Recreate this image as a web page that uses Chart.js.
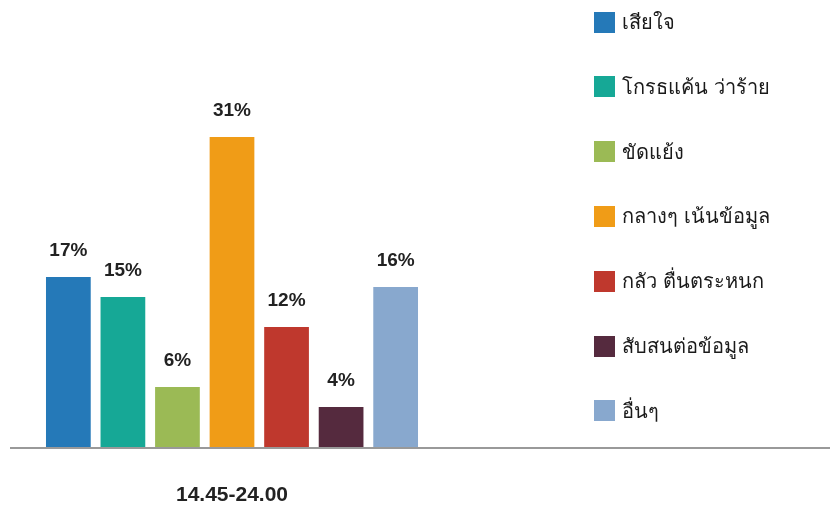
<!DOCTYPE html>
<html>
<head>
<meta charset="utf-8">
<script src="https://cdn.jsdelivr.net/npm/chart.js@4.4.1/dist/chart.umd.min.js"></script>
<style>
  html, body { margin: 0; padding: 0; background: #fff; }
  #wrap { position: relative; width: 830px; height: 507px; }
  #legend { position: absolute; left: 594px; top: 0; margin: 0; padding: 0; list-style: none;
    font-family: "Liberation Sans", "DejaVu Sans", sans-serif; font-size: 20px; color: #1a1a1a; }
  #legend li { position: absolute; left: 0; height: 22px; display: flex; align-items: center; white-space: nowrap; }
  #legend .box { width: 21px; height: 21px; margin-right: 7px; flex: none; }
</style>
</head>
<body>
<div id="wrap">
  <canvas id="c" width="830" height="507"></canvas>
  <ul id="legend"></ul>
</div>
<script>
const categories = ["14.45-24.00"];
const seriesNames = ["เสียใจ", "โกรธแค้น ว่าร้าย", "ขัดแย้ง", "กลางๆ เน้นข้อมูล", "กลัว ตื่นตระหนก", "สับสนต่อข้อมูล", "อื่นๆ"];
const seriesValues = [17, 15, 6, 31, 12, 4, 16];
const seriesColors = ["#2579B8", "#16A896", "#9BBA55", "#F09C17", "#BF382D", "#552A3E", "#88A8CE"];

const datasets = seriesNames.map((name, i) => ({
  label: name,
  data: [seriesValues[i]],
  backgroundColor: seriesColors[i],
  borderWidth: 0,
  categoryPercentage: 0.86,
  barPercentage: 0.82
}));

const valueLabels = {
  id: 'valueLabels',
  afterDatasetsDraw(chart) {
    const ctx = chart.ctx;
    ctx.save();
    ctx.font = 'bold 19px "Liberation Sans", sans-serif';
    ctx.fillStyle = '#222';
    ctx.textAlign = 'center';
    ctx.textBaseline = 'middle';
    chart.data.datasets.forEach((ds, i) => {
      const meta = chart.getDatasetMeta(i);
      meta.data.forEach((bar, j) => {
        ctx.fillText(ds.data[j] + '%', bar.x, bar.y - 26);
      });
    });
    ctx.restore();
  }
};

const baseLine = {
  id: 'baseLine',
  afterDatasetsDraw(chart) {
    const ctx = chart.ctx;
    const y = chart.scales.y.getPixelForValue(0);
    ctx.save();
    ctx.strokeStyle = '#999';
    ctx.lineWidth = 2;
    ctx.beginPath();
    ctx.moveTo(10, y + 1);
    ctx.lineTo(chart.width, y + 1);
    ctx.stroke();
    ctx.restore();
  }
};

new Chart(document.getElementById('c'), {
  type: 'bar',
  data: { labels: categories, datasets },
  options: {
    responsive: false,
    animation: false,
    layout: { padding: { left: 10, right: 376, top: 0, bottom: 0 } },
    plugins: { legend: { display: false }, tooltip: { enabled: false } },
    scales: {
      x: {
        grid: { display: false, drawTicks: false },
        border: { display: false },
        ticks: { color: '#222', font: { family: '"Liberation Sans", sans-serif', size: 21, weight: 'bold' }, padding: 36 },
        afterFit(scale) { scale.height = 60; }
      },
      y: {
        display: false,
        min: 0,
        max: 44.7
      }
    }
  },
  plugins: [valueLabels, baseLine]
});

const legend = document.getElementById('legend');
seriesNames.forEach((name, i) => {
  const li = document.createElement('li');
  li.style.top = (i * 64.8 + 11) + 'px';
  const box = document.createElement('span');
  box.className = 'box';
  box.style.background = seriesColors[i];
  const t = document.createElement('span');
  t.textContent = name;
  li.appendChild(box);
  li.appendChild(t);
  legend.appendChild(li);
});
</script>
</body>
</html>
